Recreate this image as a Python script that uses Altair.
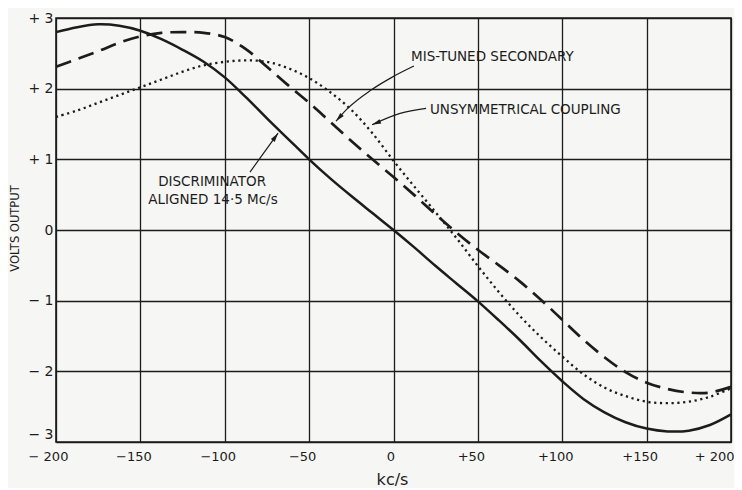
import math
import altair as alt
import pandas as pd

# ---------------- data ----------------
kc = [-200, -187.5, -175, -162.5, -150, -137.5, -125, -112.5, -100, -87.5, -75, -62.5,
      -50, -37.5, -25, -12.5, 0, 12.5, 25, 37.5, 50, 62.5, 75, 87.5, 100, 112.5,
      125, 137.5, 150, 162.5, 175, 187.5, 200]

aligned = [2.80, 2.87, 2.91, 2.89, 2.82, 2.70, 2.55, 2.38, 2.16, 1.88, 1.58, 1.29,
           1.00, 0.73, 0.48, 0.24, 0.00, -0.25, -0.51, -0.76, -1.01, -1.28, -1.56, -1.86,
           -2.14, -2.39, -2.58, -2.72, -2.81, -2.85, -2.84, -2.76, -2.61]

mistuned = [2.31, 2.42, 2.53, 2.65, 2.74, 2.79, 2.80, 2.79, 2.73, 2.56, 2.31, 2.05,
            1.80, 1.53, 1.26, 1.00, 0.75, 0.49, 0.22, -0.04, -0.28, -0.50, -0.73, -0.99,
            -1.27, -1.55, -1.80, -2.01, -2.16, -2.25, -2.30, -2.30, -2.22]

unsym = [1.60, 1.69, 1.80, 1.91, 2.02, 2.13, 2.24, 2.33, 2.38, 2.40, 2.38, 2.29,
         2.15, 1.95, 1.70, 1.37, 0.98, 0.61, 0.25, -0.12, -0.51, -0.88, -1.22, -1.52,
         -1.79, -2.04, -2.23, -2.35, -2.43, -2.45, -2.43, -2.36, -2.24]

x_ticks = [-200, -150, -100, -50, 0, 50, 100, 150, 200]
x_tick_labels = ["\u2212 200", "\u2212150", "\u2212100", "\u221250", "0", "+50", "+100", "+150", "+ 200"]
y_ticks = [3, 2, 1, 0, -1, -2, -3]
y_tick_labels = ["+ 3", "+ 2", "+ 1", "0", "\u2212 1", "\u2212 2", "\u2212 3"]

note_text = ["MIS-TUNED SECONDARY", "UNSYMMETRICAL COUPLING", "DISCRIMINATOR", "ALIGNED 14\u00b75 Mc/s"]
note_kc = [10.4, 21.6, -107.5, -107.0]
note_v = [2.45, 1.70, 0.68, 0.42]
note_align = ["left", "left", "center", "center"]

arrow_mis_kc = [12.1, -1.0, -13.3, -27.6, -34.1]
arrow_mis_v = [2.32, 2.16, 1.98, 1.71, 1.54]
arrow_uns_kc = [19.3, 3.9, -12.7]
arrow_uns_v = [1.72, 1.65, 1.49]
arrow_dis_kc = [-85.0, -77.5, -68.4]
arrow_dis_v = [0.82, 1.07, 1.37]

# ---------------- layout ----------------
W, H = 675, 424
X_DOM = [-200, 200]
Y_DOM = [-3, 3]
INK = "#1c1c1c"
BG = "#f6f6f4"
FONT = "DejaVu Sans"
CURVE = "catmull-rom"

def label_expr(ticks, labels):
    e = "''"
    for t, l in reversed(list(zip(ticks, labels))):
        e = f"datum.value == {t} ? '{l}' : ({e})"
    return e

xs = alt.Scale(domain=X_DOM, nice=False, zero=False)
ys = alt.Scale(domain=Y_DOM, nice=False, zero=False)

x_axis = alt.Axis(
    values=x_ticks, labelExpr=label_expr(x_ticks, x_tick_labels), title="kc/s",
    grid=True, gridColor=INK, gridWidth=1.3, domain=False, ticks=False,
    labelFlush=False, labelOverlap=False, labelPadding=8, labelFontSize=13,
    labelFont=FONT, labelColor=INK,
    labelOffset={"condition": [{"test": "datum.value == 0", "value": -3},
                               {"test": "datum.value == -200", "value": -8},
                               {"test": "datum.value == 200", "value": 3}], "value": -7},
    labelAlign={"condition": {"test": "datum.value == 200", "value": "right"}, "value": "center"},
    titleFont=FONT, titleFontSize=16, titleFontWeight="normal", titleColor=INK,
    titleX=336, titleY=37, titleBaseline="middle", titleAlign="center",
)
y_axis = alt.Axis(
    values=y_ticks, labelExpr=label_expr(y_ticks, y_tick_labels), title="VOLTS OUTPUT",
    grid=True, gridColor=INK, gridWidth=1.3, domain=False, ticks=False,
    labelFlush=False, labelOverlap=False, labelPadding=3, labelFontSize=14,
    labelFont=FONT, labelColor=INK,
    labelOffset={"condition": {"test": "datum.value == -3", "value": -8}, "value": 0},
    titleFont=FONT, titleFontSize=11.5, titleFontWeight="normal", titleColor=INK,
    titleX=-41, titleY=210, titleAngle=270, titleBaseline="middle", titleAlign="center",
)

curves = pd.DataFrame({"kc": kc, "aligned": aligned, "mistuned": mistuned, "unsym": unsym})

base = alt.Chart(curves)
solid = base.mark_line(color=INK, strokeWidth=2.5, interpolate=CURVE).encode(
    x=alt.X("kc:Q", scale=xs, axis=x_axis), y=alt.Y("aligned:Q", scale=ys, axis=y_axis))
dashed = base.mark_line(color=INK, strokeWidth=2.7, strokeDash=[16, 8], interpolate=CURVE).encode(
    x=alt.X("kc:Q", scale=xs), y=alt.Y("mistuned:Q", scale=ys))
dotted = base.mark_line(color=INK, strokeWidth=2.3, strokeDash=[2.2, 3.6], interpolate=CURVE).encode(
    x=alt.X("kc:Q", scale=xs), y=alt.Y("unsym:Q", scale=ys))

notes = pd.DataFrame({"text": note_text, "kc": note_kc, "v": note_v, "align": note_align})
note_layers = []
for al in ["left", "center"]:
    note_layers.append(
        alt.Chart(notes[notes["align"] == al]).mark_text(
            align=al, baseline="middle", font=FONT, fontSize=13.5, color=INK
        ).encode(x=alt.X("kc:Q", scale=xs), y=alt.Y("v:Q", scale=ys), text="text:N")
    )

px_kc = W / (X_DOM[1] - X_DOM[0])
px_v = H / (Y_DOM[1] - Y_DOM[0])

arrow_rows, head_rows = [], []
for name, ak, av in [("mis", arrow_mis_kc, arrow_mis_v), ("uns", arrow_uns_kc, arrow_uns_v),
                     ("dis", arrow_dis_kc, arrow_dis_v)]:
    for i, (k, v) in enumerate(zip(ak, av)):
        arrow_rows.append({"name": name, "i": i, "kc": k, "v": v})
    dx = (ak[-1] - ak[-2]) * px_kc
    dy = -(av[-1] - av[-2]) * px_v
    ang = math.degrees(math.atan2(dx, -dy)) % 360
    head_rows.append({"name": name, "kc": ak[-1], "v": av[-1], "ang": ang})

arrows = alt.Chart(pd.DataFrame(arrow_rows)).mark_line(
    color=INK, strokeWidth=1.2, interpolate="monotone").encode(
    x=alt.X("kc:Q", scale=xs), y=alt.Y("v:Q", scale=ys), detail="name:N", order="i:Q")
heads = alt.Chart(pd.DataFrame(head_rows)).mark_point(
    shape="M0,0L-0.5,1.9L0.5,1.9Z", filled=True, color=INK, opacity=1, size=90).encode(
    x=alt.X("kc:Q", scale=xs), y=alt.Y("v:Q", scale=ys), angle=alt.Angle("ang:Q", scale=None))

chart = alt.layer(solid, dashed, dotted, arrows, heads, *note_layers).properties(
    width=W, height=H,
    autosize=alt.AutoSizeParams(type="none"),
    padding={"left": 48, "top": 10, "right": 3, "bottom": 46},
    background=BG,
).configure_view(stroke=INK, strokeWidth=1.6, fill=BG)

chart.save("out.html", embed_options={"renderer": "svg", "actions": False})
